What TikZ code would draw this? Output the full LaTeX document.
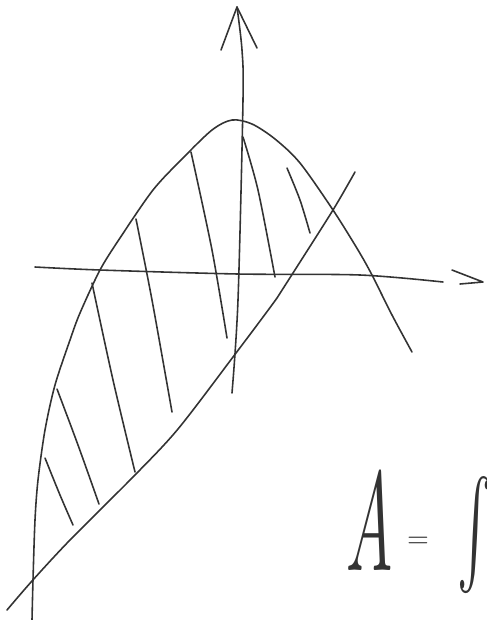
\documentclass[tikz,border=0pt]{standalone}
\usepackage{amsmath}
\begin{document}
\begin{tikzpicture}[x=0.02cm,y=-0.02cm,
  pen/.style={draw=black!80,line width=0.9pt,line cap=round,line join=round},
  hand/.style={inner sep=0pt,text=black!80}]

  \useasboundingbox (0,0) rectangle (487,620);
  \clip (0,0) rectangle (487,620);

  \draw[pen] plot[smooth] coordinates {(232,393) (238,300) (243,100) (242,50) (237,7)};
  \draw[pen] (221,50) -- (237,7) -- (257,48);

  \draw[pen] plot[smooth] coordinates {(35,267) (100,270) (238,274) (360,275) (443,282)};
  \draw[pen] (452,270) -- (483,282) -- (460,284);

  \draw[pen] plot[smooth] coordinates {(32,620) (33,580) (35,520) (38,480) (45,430)
    (55,385) (70,340) (80,313) (100,270) (120,238) (153,190) (183,158) (212,130)
    (232,120) (252,124) (275,139) (300,163) (333,210) (358,250) (372,275) (392,315) (412,352)};

  \draw[pen] plot[smooth] coordinates {(7,610) (32,581) (70,540) (135,475) (178,429)
    (233,357) (277,298) (293,273) (333,210) (355,172)};

  \foreach \xa/\ya/\xb/\yb/\xc/\yc in {191/152/212/250/227/338, 136/219/152/300/172/412,
      243/137/258/190/275/277, 287/168/300/200/310/233,
      92/283/113/380/135/472, 57/389/78/445/99/504, 45/458/60/495/73/525}
    \draw[pen] plot[smooth] coordinates {(\xa,\ya) (\xb,\yb) (\xc,\yc)};

  \node[hand,xscale=3.5,yscale=8] (lhs) at (370,522) {$A$};
  \node[hand,scale=1.6] (eq) at (418,542) {$=$};
  \node[hand,xscale=3,yscale=6,anchor=north east] (integ) at (494,474) {$\int$};

\end{tikzpicture}
\end{document}
